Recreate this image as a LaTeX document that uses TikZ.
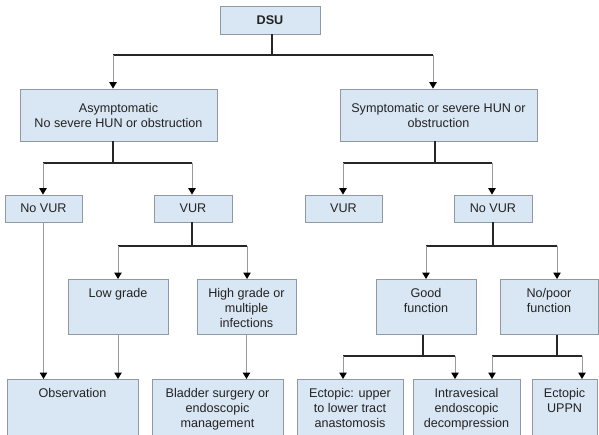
\documentclass[tikz,border=0pt]{standalone}
\usepackage{fontspec}
\setmainfont{Liberation Sans}
\usetikzlibrary{arrows.meta}
\definecolor{cellfill}{RGB}{217,230,243}
\definecolor{cellline}{RGB}{143,153,163}
\definecolor{dropline}{RGB}{155,155,155}
\definecolor{inktext}{RGB}{35,35,35}
\tikzstyle{cell}=[draw=cellline,fill=cellfill,line width=0.9pt,text=inktext,inner sep=0pt]
\tikzstyle{bar}=[draw=black!85,line width=1.2pt]
\tikzstyle{drop}=[draw=dropline,line width=1pt,-{Triangle[length=6.5pt,width=7.5pt,color=black]}]
\newcommand{\midcell}[5]{\node[cell,minimum width=#3,minimum height=#4,align=center] (#1) at (#2) {#5};}
\newcommand{\topcell}[5]{\node[cell,anchor=north] (#1) at (#2) {\parbox[c][#4][t]{#3}{\centering\rule{0pt}{18.5pt}#5}};}
% parent, bar y, stem x, left x, right x, left child, right child
\newcommand{\myfork}[7]{
  \coordinate (#1m) at (#3,#2); \coordinate (#1l) at (#4,#2); \coordinate (#1r) at (#5,#2);
  \draw[bar] (#1.south -| #1m) -- (#1m);
  \draw[bar] (#1l) -- (#1r);
  \draw[drop] (#1l) -- (#1l |- #6.north);
  \draw[drop] (#1r) -- (#1r |- #7.north);}

\begin{document}
\begin{tikzpicture}[x=1pt,y=-1pt,font=\fontsize{12.6}{15}\selectfont]
    \useasboundingbox (0,0) rectangle (599,434);
    \clip (0,0) rectangle (599,434);
    % top
    \midcell{dsu}{270,20}{100pt}{28pt}{\textbf{DSU}}
    \midcell{asym}{118.5,115}{197pt}{52pt}{Asymptomatic\\No severe HUN or obstruction}
    \midcell{symp}{438.5,115}{197pt}{52pt}{Symptomatic or severe HUN or\\obstruction}

    \midcell{novurl}{43.5,208.5}{77pt}{27pt}{No VUR}
    \midcell{vurl}{193,208.5}{78pt}{27pt}{VUR}
    \midcell{vurr}{343.5,208.5}{77pt}{27pt}{VUR}
    \midcell{novurr}{493,208.5}{78pt}{27pt}{No VUR}

    \topcell{low}{118,279}{100pt}{55pt}{Low grade}
    \topcell{high}{246.5,279}{99pt}{55pt}{High grade or\\multiple\\infections}
    \topcell{good}{426,279}{100pt}{55pt}{Good\\function}
    \topcell{nopoor}{549,279}{98pt}{55pt}{No/poor\\function}

    % bottom row runs off the page
    \topcell{obs}{72.5,379}{131pt}{75pt}{Observation}
    \topcell{bladder}{217.5,379}{131pt}{75pt}{Bladder surgery or\\endoscopic\\management}
    \topcell{ecto}{350,379}{106pt}{75pt}{Ectopic: upper\\to lower tract\\anastomosis}
    \topcell{intra}{466.5,379}{107pt}{75pt}{Intravesical\\endoscopic\\decompression}
    \topcell{uppn}{564.5,379}{65pt}{75pt}{Ectopic\\UPPN}

    \myfork{dsu}{55}{272}{113}{433}{asym}{symp}
    \myfork{asym}{163}{113}{43}{192}{novurl}{vurl}
    \myfork{symp}{163}{435}{343}{492}{vurr}{novurr}
    \myfork{vurl}{246}{192}{118}{247}{low}{high}
    \myfork{novurr}{246}{493}{426}{557}{good}{nopoor}
    \myfork{good}{356}{423}{343}{455}{ecto}{intra}
    \myfork{nopoor}{356}{557}{492}{582}{intra}{uppn}

    \draw[drop] (novurl.south) -- (novurl.south |- obs.north);
    \draw[drop] (low.south) -- (low.south |- obs.north);
    \draw[drop] (high.south) -- (high.south |- bladder.north);
\end{tikzpicture}
\end{document}
